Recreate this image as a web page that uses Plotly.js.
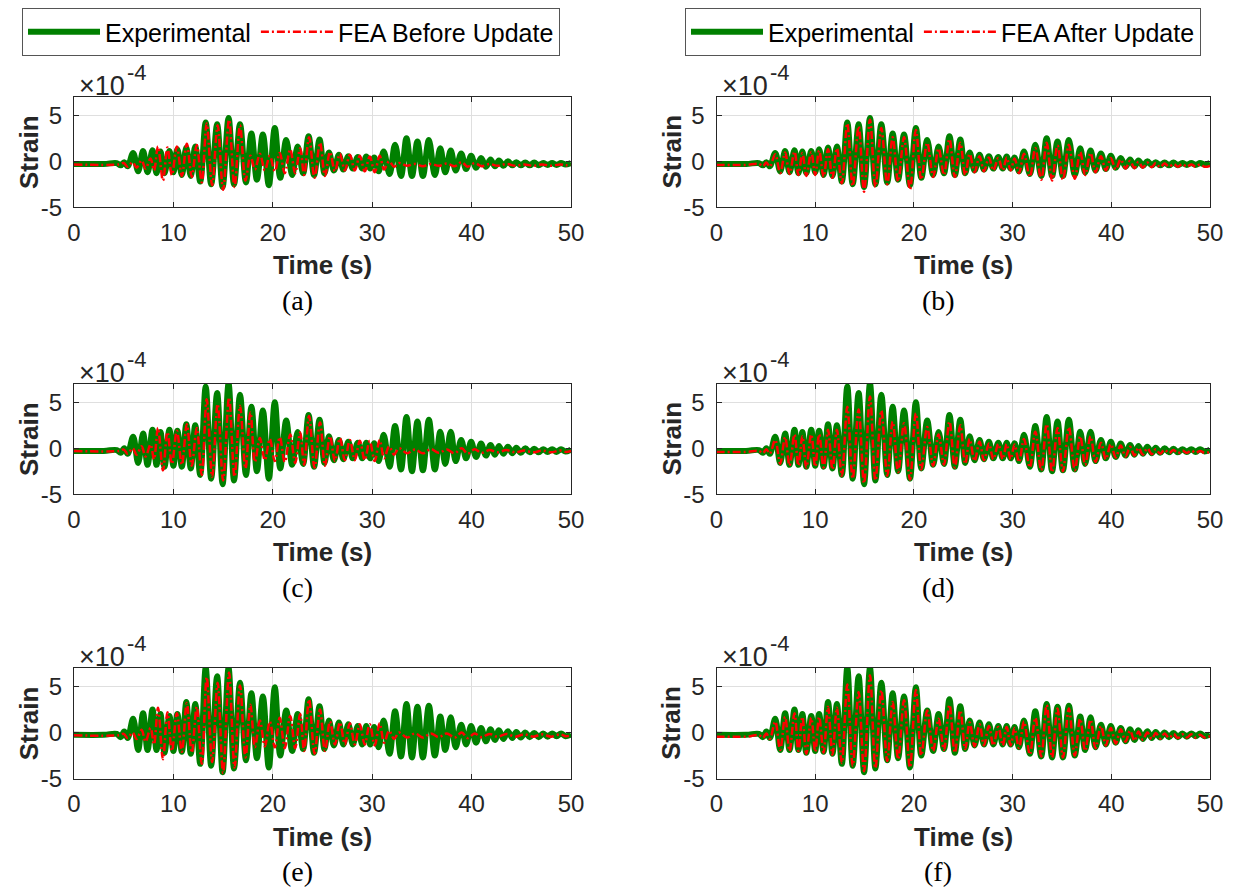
<!DOCTYPE html>
<html>
<head>
<meta charset="utf-8">
<script src="https://cdn.plot.ly/plotly-3.0.1.min.js"></script>
<style>html,body{margin:0;padding:0;background:#fff}#chart{width:1234px;height:888px}</style>
</head>
<body>
<div id="chart"></div>
<script>
// ---------------- DATA (strain in units of 1e-4, time in s) ----------------
// extremum times of the experimental records (also used for FEA after update)
const tExp = [0, 3.0, 4.3, 4.7, 5.05, 5.4, 5.95, 6.45, 6.95, 7.4,
  7.9, 8.3, 8.7, 9.1, 9.6, 10.0, 10.4, 10.85, 11.3, 11.75,
  12.2, 12.7, 13.25, 13.8, 14.4, 14.95, 15.55, 16.1, 16.7, 17.3,
  17.85, 18.4, 19.0, 19.6, 20.2, 20.75, 21.35, 21.95, 22.5, 23.05,
  23.6, 24.15, 24.7, 25.2, 25.65, 26.15, 26.65, 27.1, 27.6, 28.05,
  28.55, 29.0, 29.4, 29.8, 30.2, 30.65, 31.15, 31.75, 32.3, 32.9,
  33.45, 34.0, 34.55, 35.1, 35.7, 36.3, 36.85, 37.35, 37.9, 38.4,
  38.95, 39.45, 39.95, 40.45, 40.95, 41.45, 41.9, 42.35, 42.75, 43.2,
  43.65, 44.1, 44.5, 44.95, 45.4, 45.85, 46.3, 46.75, 47.2, 47.65,
  48.1, 48.55, 49.0, 49.45, 50];

const expRow1 = [-0.3, -0.3, -0.2, -0.45, -0.1, -0.55, 0.9, -1.1, 1.1, -1.2,
  1.2, -1.3, 1.05, -1.3, 1.1, -1.2, 1.3, -1.5, 1.5, -1.6,
  1.6, -2.2, 4.2, -2.5, 4.0, -2.8, 4.7, -2.5, 4.0, -2.3,
  3.0, -2.0, 2.9, -2.6, 3.6, -1.8, 2.3, -1.5, 1.6, -1.3,
  2.7, -1.5, 2.35, -1.3, 0.95, -1.0, 0.7, -0.9, 0.55, -0.8,
  0.45, -0.8, 0.5, -0.8, 0.4, -1.1, 1.05, -1.4, 1.8, -1.6,
  2.5, -1.6, 2.15, -1.6, 2.3, -1.5, 1.4, -1.2, 1.15, -1.0,
  0.85, -0.85, 0.6, -0.7, 0.35, -0.6, 0.18, -0.55, 0.08, -0.5,
  0.0, -0.45, -0.1, -0.45, -0.15, -0.45, -0.15, -0.45, -0.2, -0.4,
  -0.2, -0.4, -0.2, -0.35, -0.2];

const expRow2 = [-0.3, -0.3, -0.2, -0.5, 0.0, -0.6, 1.25, -1.6, 1.6, -1.8,
  2.0, -1.8, 1.75, -2.0, 2.0, -1.9, 1.9, -2.0, 2.6, -2.2,
  2.5, -2.9, 6.7, -3.3, 6.0, -3.9, 7.0, -3.5, 5.8, -2.9,
  4.5, -2.5, 4.1, -3.3, 5.0, -2.2, 3.0, -1.8, 1.75, -1.7,
  3.6, -2.0, 3.1, -1.6, 1.3, -1.3, 0.9, -1.2, 0.7, -1.1,
  0.6, -1.1, 0.6, -1.1, 0.55, -1.4, 1.45, -2.0, 2.4, -2.3,
  3.4, -2.5, 2.9, -2.4, 3.1, -2.3, 1.8, -1.7, 1.8, -1.4,
  0.9, -1.1, 0.7, -0.95, 0.5, -0.8, 0.35, -0.7, 0.25, -0.6,
  0.15, -0.55, 0.05, -0.5, 0.0, -0.45, -0.05, -0.45, -0.1, -0.4,
  -0.1, -0.4, -0.1, -0.35, -0.15];

const expRow3 = [-0.25, -0.25, -0.15, -0.5, 0.1, -0.6, 1.5, -1.9, 2.1, -1.9,
  2.5, -1.9, 2.0, -2.2, 1.8, -2.0, 2.0, -2.1, 3.3, -2.3,
  3.1, -3.4, 7.0, -3.6, 6.1, -4.3, 7.0, -3.9, 5.4, -3.0,
  4.25, -2.8, 3.9, -3.8, 4.9, -2.5, 2.4, -2.0, 2.0, -1.8,
  3.6, -2.2, 2.85, -1.8, 1.3, -1.4, 1.1, -1.3, 0.9, -1.3,
  0.7, -1.3, 0.7, -1.3, 0.6, -1.6, 1.3, -2.3, 2.3, -2.6,
  3.1, -2.7, 2.8, -2.7, 2.9, -2.5, 1.75, -1.9, 1.65, -1.6,
  0.85, -1.3, 0.7, -1.1, 0.5, -0.95, 0.35, -0.8, 0.25, -0.7,
  0.15, -0.6, 0.05, -0.55, 0.0, -0.5, -0.05, -0.5, -0.1, -0.45,
  -0.1, -0.4, -0.1, -0.4, -0.2];

const feaAfterB = [-0.4, -0.4, -0.3, -0.55, -0.15, -0.6, 0.75, -1.3, 0.95, -1.4,
  1.05, -1.5, 0.9, -1.6, 1.0, -1.5, 1.15, -1.7, 1.3, -1.8,
  1.4, -2.4, 4.1, -2.7, 3.8, -3.3, 4.5, -2.8, 3.6, -2.5,
  2.6, -2.2, 2.6, -3.1, 3.4, -2.0, 2.0, -1.7, 1.4, -1.5,
  2.4, -1.7, 2.0, -1.5, 0.8, -1.2, 0.55, -1.1, 0.4, -1.0,
  0.35, -1.0, 0.4, -1.0, 0.3, -1.3, 0.8, -1.7, 1.4, -2.0,
  2.0, -2.1, 1.7, -2.0, 1.8, -1.9, 1.0, -1.5, 0.9, -1.2,
  0.55, -1.0, 0.35, -0.9, 0.2, -0.8, 0.05, -0.75, -0.05, -0.7,
  -0.15, -0.65, -0.2, -0.65, -0.25, -0.6, -0.3, -0.6, -0.3, -0.6,
  -0.35, -0.6, -0.35, -0.6, -0.5];

const feaAfterD = [-0.4, -0.4, -0.3, -0.55, -0.1, -0.6, 0.9, -1.7, 1.2, -1.9,
  1.5, -1.9, 1.3, -2.1, 1.5, -2.0, 1.5, -2.1, 2.0, -2.3,
  2.0, -3.0, 4.5, -3.3, 4.2, -3.8, 5.6, -3.5, 4.1, -3.0,
  2.9, -2.6, 2.7, -3.4, 3.8, -2.3, 2.3, -1.9, 1.5, -1.8,
  2.9, -2.1, 2.5, -1.7, 1.0, -1.4, 0.7, -1.3, 0.5, -1.2,
  0.45, -1.2, 0.45, -1.2, 0.4, -1.5, 1.0, -2.1, 1.8, -2.4,
  2.6, -2.6, 2.2, -2.5, 2.3, -2.4, 1.3, -1.8, 1.3, -1.5,
  0.6, -1.2, 0.45, -1.0, 0.3, -0.9, 0.15, -0.8, 0.05, -0.7,
  0.0, -0.65, -0.1, -0.6, -0.15, -0.55, -0.2, -0.55, -0.25, -0.5,
  -0.25, -0.5, -0.3, -0.5, -0.4];

const feaAfterF = [-0.45, -0.45, -0.3, -0.6, -0.1, -0.7, 1.2, -1.9, 1.7, -2.0,
  2.1, -2.0, 1.7, -2.3, 1.6, -2.1, 1.7, -2.2, 2.8, -2.4,
  2.7, -3.3, 5.2, -3.6, 4.4, -4.2, 6.2, -3.9, 4.6, -3.1,
  3.3, -2.9, 3.5, -3.8, 4.6, -2.5, 2.4, -2.0, 1.5, -1.9,
  3.0, -2.2, 2.4, -1.8, 1.1, -1.5, 0.9, -1.4, 0.7, -1.4,
  0.6, -1.4, 0.6, -1.4, 0.5, -1.7, 1.2, -2.4, 1.6, -2.6,
  3.0, -2.7, 2.6, -2.7, 2.6, -2.5, 1.5, -2.0, 1.4, -1.7,
  0.7, -1.4, 0.5, -1.2, 0.35, -1.0, 0.2, -0.9, 0.1, -0.8,
  0.0, -0.7, -0.05, -0.65, -0.1, -0.6, -0.15, -0.6, -0.2, -0.55,
  -0.2, -0.55, -0.25, -0.55, -0.4];

// extremum times of the FEA records before model update
const tBefore = [0, 4.5, 5.0, 5.4, 5.9, 6.3, 6.8, 7.2, 7.7, 8.05,
  8.45, 8.95, 9.4, 9.85, 10.35, 10.85, 11.35, 11.85, 12.35, 12.85,
  13.35, 13.9, 14.45, 15.0, 15.6, 16.15, 16.7, 17.25, 17.75, 18.2,
  18.7, 19.2, 19.7, 20.2, 20.7, 21.2, 21.75, 22.25, 22.75, 23.15,
  23.65, 24.2, 24.75, 25.25, 25.75, 26.25, 26.75, 27.25, 27.75, 28.25,
  28.75, 29.25, 29.75, 30.25, 30.75, 31.2, 31.7, 32.2, 32.7, 33.5,
  34.3, 35.1, 35.9, 36.7, 37.5, 38.3, 39.0, 39.6, 40.3, 41.0,
  41.8, 42.6, 43.5, 44.4, 45.3, 46.2, 47.1, 48.0, 48.9, 49.5, 50];

const feaBeforeA = [-0.35, -0.35, -0.2, -0.6, -0.1, -0.7, 0.1, -0.8, 0.3, -1.0,
  1.6, -2.1, 1.5, -1.5, 1.6, -1.6, 1.9, -1.7, 1.75, -2.3,
  4.1, -2.6, 3.9, -3.1, 4.5, -2.8, 3.9, -2.1, 0.6, -0.9,
  0.8, -1.0, 0.6, -1.1, 0.9, -1.3, 1.3, -1.3, 1.4, -1.5,
  2.6, -1.8, 2.0, -1.6, 1.0, -1.1, 0.8, -1.0, 0.7, -1.0,
  0.6, -1.1, 0.5, -1.2, 0.6, -0.9, 0.0, -0.6, -0.2, -0.5,
  -0.3, -0.55, -0.3, -0.5, -0.25, -0.55, -0.1, -0.6, -0.2, -0.55,
  -0.3, -0.5, -0.3, -0.5, -0.35, -0.5, -0.35, -0.5, -0.35, -0.45, -0.4];

const feaBeforeC = [-0.3, -0.3, -0.15, -0.6, 0.0, -0.7, 0.2, -0.9, 0.4, -1.2,
  2.2, -2.4, 1.75, -1.7, 1.9, -1.8, 2.6, -1.9, 2.2, -2.9,
  5.3, -3.1, 4.8, -3.5, 5.5, -3.1, 4.6, -2.2, 3.9, -1.5,
  1.1, -1.3, 1.0, -1.4, 1.2, -1.5, 1.5, -1.6, 1.7, -1.8,
  3.5, -2.1, 2.8, -1.9, 1.3, -1.4, 1.1, -1.3, 0.9, -1.3,
  0.8, -1.3, 0.8, -1.4, 0.9, -1.1, 0.2, -0.7, 0.0, -0.55,
  -0.15, -0.55, -0.1, -0.5, -0.15, -0.55, 0.0, -0.6, -0.1, -0.5,
  -0.2, -0.45, -0.2, -0.45, -0.25, -0.45, -0.25, -0.45, -0.25, -0.4, -0.3];

const feaBeforeE = [-0.3, -0.3, -0.15, -0.6, 0.0, -0.7, 0.3, -1.0, 0.5, -1.3,
  2.7, -2.9, 2.2, -2.0, 2.1, -2.1, 3.2, -2.2, 2.8, -3.4,
  6.0, -3.2, 5.4, -4.4, 6.5, -3.8, 5.1, -2.7, 3.0, -1.6,
  1.3, -1.5, 1.2, -1.6, 1.6, -1.7, 1.8, -1.7, 2.0, -2.0,
  3.6, -2.3, 2.5, -2.0, 1.2, -1.3, 1.1, -1.3, 1.0, -1.3,
  0.9, -1.3, 0.9, -1.4, 1.0, -1.1, 0.2, -0.7, 0.0, -0.55,
  -0.1, -0.55, -0.1, -0.5, -0.1, -0.55, 0.0, -0.6, -0.1, -0.5,
  -0.15, -0.45, -0.15, -0.45, -0.2, -0.45, -0.2, -0.45, -0.2, -0.4, -0.3];

const panelLabels = ['(a)', '(b)', '(c)', '(d)', '(e)', '(f)'];
const seriesNames = ['Experimental', 'FEA Before Update', 'FEA After Update'];
const xTickVals = [0, 10, 20, 30, 40, 50];
const yTickVals = [-5, 0, 5];
const yTickText = ['-5', '0', '5'];
const xTitle = 'Time (s)';
const yTitle = 'Strain';
const expBase = '\u00d710';
const expPower = '-4';

// ---------------- LAYOUT ----------------
const W = 1234, H = 888;
const px = v => v / W;
const py = v => 1 - v / H;
const colX = [[74, 571], [716.5, 1210]];
const rowY = [[96.7, 207.3], [383.7, 494.3], [668, 778.6]];

const panels = [
  {t: tExp, e: expRow1, ft: tBefore, f: feaBeforeA, fn: 1},
  {t: tExp, e: expRow1, ft: tExp, f: feaAfterB, fn: 2},
  {t: tExp, e: expRow2, ft: tBefore, f: feaBeforeC, fn: 1},
  {t: tExp, e: expRow2, ft: tExp, f: feaAfterD, fn: 2},
  {t: tExp, e: expRow3, ft: tBefore, f: feaBeforeE, fn: 1},
  {t: tExp, e: expRow3, ft: tExp, f: feaAfterF, fn: 2}
];

const FONT = 'Liberation Sans, Arial, Helvetica, sans-serif';
const SERIF = 'Liberation Serif, Times New Roman, serif';
const AX = '#262626';
const GRID = '#dfdfdf';
const GREEN = 'rgb(0,128,0)';
const RED = 'rgb(255,0,0)';

const traces = [];
const legendBase = {
  y: py(8), xanchor: 'left', yanchor: 'top', orientation: 'h',
  bordercolor: '#555555', borderwidth: 1, bgcolor: '#ffffff',
  font: {family: FONT, size: 25, color: '#000'}, itemwidth: 72,
  tracegroupgap: 0
};
const layout = {
  width: W, height: H,
  margin: {l: 0, r: 0, t: 0, b: 0},
  paper_bgcolor: '#ffffff', plot_bgcolor: '#ffffff',
  showlegend: true,
  annotations: [],
  legend: Object.assign({}, legendBase, {x: px(22)}),
  legend2: Object.assign({}, legendBase, {x: px(685)})
};

panels.forEach((p, i) => {
  const r = Math.floor(i / 2), c = i % 2;
  const sfx = i === 0 ? '' : String(i + 1);
  const xa = 'x' + sfx, ya = 'y' + sfx;
  const lg = c === 0 ? 'legend' : 'legend2';
  traces.push({
    x: p.t, y: p.e, xaxis: xa, yaxis: ya, type: 'scatter', mode: 'lines',
    name: seriesNames[0], legend: lg, showlegend: r === 0,
    line: {color: GREEN, width: 6, shape: 'spline', smoothing: 1},
    hoverinfo: 'skip'
  });
  traces.push({
    x: p.ft, y: p.f, xaxis: xa, yaxis: ya, type: 'scatter', mode: 'lines',
    name: seriesNames[p.fn], legend: lg, showlegend: r === 0,
    line: {color: RED, width: 2.5, dash: '8px,3px,2px,3px', shape: 'spline', smoothing: 1},
    hoverinfo: 'skip'
  });
  const common = {
    showline: true, linecolor: AX, linewidth: 1, mirror: 'ticks',
    ticks: 'inside', ticklen: 5, tickwidth: 1, tickcolor: AX,
    showgrid: true, gridcolor: GRID, gridwidth: 1, zeroline: false,
    tickfont: {family: FONT, size: 24, color: AX}, fixedrange: true
  };
  layout['xaxis' + sfx] = Object.assign({}, common, {
    domain: [px(colX[c][0]), px(colX[c][1])], anchor: ya,
    range: [0, 50], tickmode: 'array', tickvals: xTickVals, ticklabelstandoff: 4
  });
  layout['yaxis' + sfx] = Object.assign({}, common, {
    domain: [py(rowY[r][1]), py(rowY[r][0])], anchor: xa,
    range: [-5, 7], tickmode: 'array', tickvals: yTickVals, ticktext: yTickText,
    ticklabelstandoff: 6
  });
  const cx = (colX[c][0] + colX[c][1]) / 2;
  layout.annotations.push({
    text: yTitle, xref: 'paper', yref: 'paper',
    x: px(colX[c][0] - 45), y: py((rowY[r][0] + rowY[r][1]) / 2),
    xanchor: 'center', yanchor: 'middle', textangle: -90, showarrow: false,
    font: {family: FONT, size: 26, color: AX, weight: 'bold'}
  });
  layout.annotations.push({
    text: xTitle, xref: 'paper', yref: 'paper',
    x: px(cx), y: py(rowY[r][1] + 58), xanchor: 'center', yanchor: 'middle',
    showarrow: false, font: {family: FONT, size: 26, color: AX, weight: 'bold'}
  });
  layout.annotations.push({
    text: panelLabels[i], xref: 'paper', yref: 'paper',
    x: px(cx - 25), y: py(rowY[r][1] + 93), xanchor: 'center', yanchor: 'middle',
    showarrow: false, font: {family: SERIF, size: 28, color: '#000'}
  });
  // axis exponent: base and raised power as two text pieces
  layout.annotations.push({
    text: expBase, xref: 'paper', yref: 'paper',
    x: px(colX[c][0] + 3), y: py(rowY[r][0] + 6), xanchor: 'left', yanchor: 'bottom',
    showarrow: false, font: {family: FONT, size: 27, color: AX}
  });
  layout.annotations.push({
    text: expPower, xref: 'paper', yref: 'paper',
    x: px(colX[c][0] + 51), y: py(rowY[r][0] - 10), xanchor: 'left', yanchor: 'bottom',
    showarrow: false, font: {family: FONT, size: 22, color: AX}
  });
});

Plotly.newPlot('chart', traces, layout, {staticPlot: true, displayModeBar: false});
</script>
</body>
</html>
